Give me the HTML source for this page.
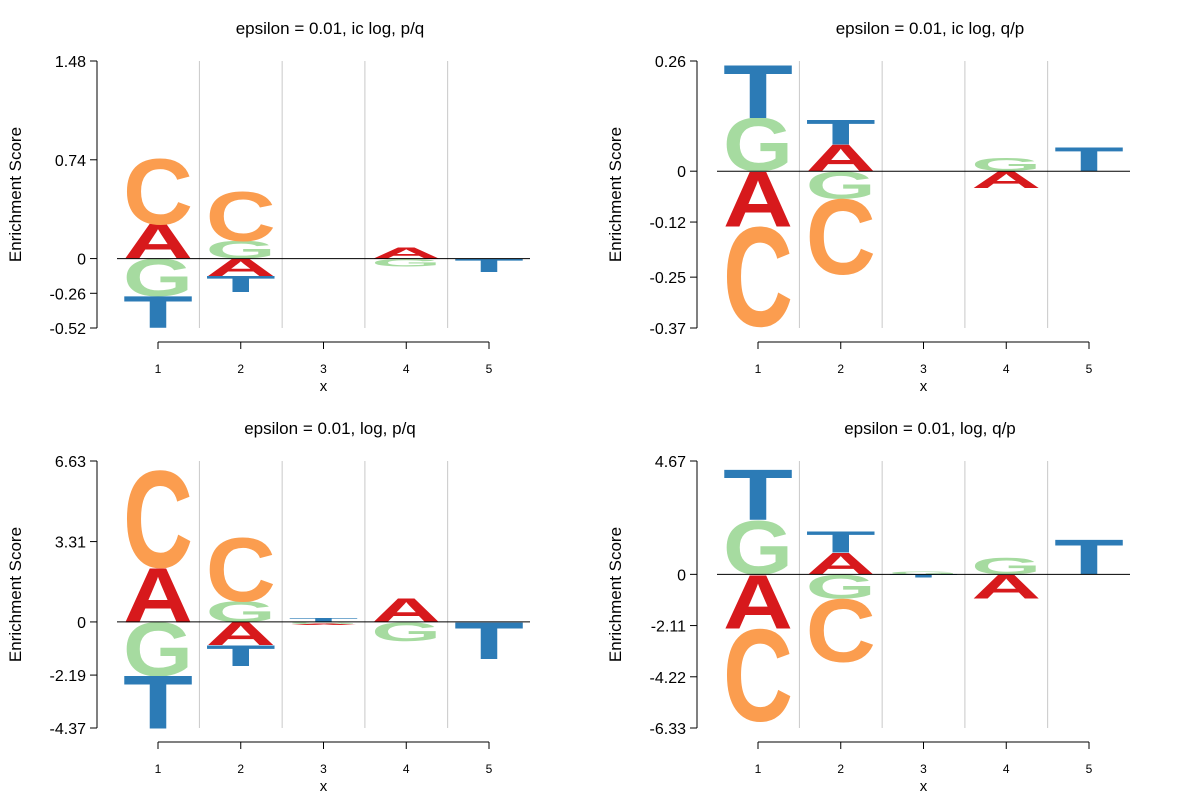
<!DOCTYPE html>
<html><head><meta charset="utf-8">
<style>
html,body{margin:0;padding:0;background:#fff;}
svg{display:block;font-family:"Liberation Sans",sans-serif;}
</style></head>
<body>
<svg id="chart" width="1200" height="800" viewBox="0 0 1200 800" xmlns="http://www.w3.org/2000/svg"></svg>
<script>
// ---- data ----
const positions = [1, 2, 3, 4, 5];
const titles = ["epsilon = 0.01, ic log, p/q", "epsilon = 0.01, ic log, q/p", "epsilon = 0.01, log, p/q", "epsilon = 0.01, log, q/p"];
const tickLabelsTL = ["1.48", "0.74", "0", "-0.26", "-0.52"];
const tickLabelsTR = ["0.26", "0", "-0.12", "-0.25", "-0.37"];
const tickLabelsBL = ["6.63", "3.31", "0", "-2.19", "-4.37"];
const tickLabelsBR = ["4.67", "0", "-2.11", "-4.22", "-6.33"];
// stacks per position, ordered from zero outward: [letter, height]
const posTL = [[["A",0.26],["C",0.49]], [["G",0.13],["C",0.37]], [], [["A",0.08]], []];
const negTL = [[["G",0.28],["T",0.24]], [["A",0.13],["T",0.12]], [], [["G",0.06]], [["T",0.10]]];
const posTR = [[["G",0.125],["T",0.125]], [["A",0.063],["T",0.058]], [], [["G",0.03]], [["T",0.056]]];
const negTR = [[["A",0.13],["C",0.235]], [["G",0.065],["C",0.178]], [], [["A",0.04]], []];
const posBL = [[["A",2.26],["C",4.0]], [["G",0.86],["C",2.63]], [["T",0.15]], [["A",1.0]], []];
const negBL = [[["G",2.22],["T",2.18]], [["A",0.95],["T",0.86]], [["G",0.08],["A",0.05]], [["G",0.78]], [["T",1.52]]];
const posBR = [[["G",2.23],["T",2.1]], [["A",0.9],["T",0.87]], [["G",0.12]], [["G",0.7]], [["T",1.45]]];
const negBR = [[["A",2.23],["C",3.8]], [["G",1.0],["C",2.6]], [["T",0.12]], [["A",1.0]], []];

const colors = {A:"#d7191c", C:"#fb9d4f", G:"#a6dba0", T:"#2c7bb6"};
const NS = "http://www.w3.org/2000/svg";
const svg = document.getElementById("chart");
function mk(tag, attrs, parent){const e=document.createElementNS(NS,tag);for(const k in attrs)e.setAttribute(k,attrs[k]);(parent||svg).appendChild(e);return e;}

const panels = [
  {ox:0, oy:0, ymax:1.48, ymin:-0.52, ticks:tickLabelsTL, pos:posTL, neg:negTL, title:titles[0]},
  {ox:600, oy:0, ymax:0.26, ymin:-0.37, ticks:tickLabelsTR, pos:posTR, neg:negTR, title:titles[1]},
  {ox:0, oy:400, ymax:6.63, ymin:-4.37, ticks:tickLabelsBL, pos:posBL, neg:negBL, title:titles[2]},
  {ox:600, oy:400, ymax:4.67, ymin:-6.33, ticks:tickLabelsBR, pos:posBR, neg:negBR, title:titles[3]}
];

panels.forEach((p, pi) => {
  const g = mk("g", {});
  
  
  const top = 61 + p.oy, bot = 328 + p.oy;
  const y = v => top + (p.ymax - v) / (p.ymax - p.ymin) * (bot - top);
  const x = i => 158 + p.ox + (i - 1) * 82.75;
  const left = 117 + p.ox, right = 530 + p.ox;
  // title
  const t = mk("text", {x: 330 + p.ox, y: 34 + p.oy, "text-anchor":"middle", "font-size":17, fill:"#000"}, g);
  t.textContent = p.title;
  
  
  // gridlines
  for (let i = 1; i < positions.length; i++) {
    const gl = mk("line", {x1: x(i)+41.4, x2: x(i)+41.4, y1: top, y2: bot, stroke:"#c8c8c8", "stroke-width":1}, g);
    
    
  }
  // letters
  const W = 70;
  function drawLetter(ch, v0, v1, i){
    const yt = y(Math.max(v0,v1)), yb = y(Math.min(v0,v1));
    const h = yb - yt; if (h <= 0.3) return;
    const fs = 100;
    const el = mk("text", {x: 0, y: 0, "font-size": fs, "font-weight":"bold", fill: colors[ch],
      textLength: W, lengthAdjust: "spacingAndGlyphs",
      transform: `translate(${x(i) - W/2},${yb}) scale(1,${h/(0.70*fs)})`}, g);
    el.textContent = ch;
    
    
  }
  positions.forEach((pos, k) => {
    let acc = 0;
    p.pos[k].forEach(([ch, h]) => { drawLetter(ch, acc, acc + h, pos); acc += h; });
    acc = 0;
    p.neg[k].forEach(([ch, h]) => { drawLetter(ch, acc, acc - h, pos); acc -= h; });
  });
  // zero line
  const zl = mk("line", {x1: left, x2: right, y1: y(0), y2: y(0), stroke:"#000", "stroke-width":1}, g);
  
  
  // y axis
  const ax = 97 + p.ox;
  const ya = mk("line", {x1: ax, x2: ax, y1: top, y2: bot, stroke:"#000"}, g);
  
  
  p.ticks.forEach(lbl => {
    const v = parseFloat(lbl), yy = y(v);
    mk("line", {x1: ax - 7, x2: ax, y1: yy, y2: yy, stroke:"#000"}, g);
    const tl = mk("text", {x: ax - 11, y: yy + 6, "text-anchor":"end", "font-size":16, fill:"#000"}, g);
    tl.textContent = lbl;
    
    
  });
  const yl = mk("text", {x: 0, y: 0, "text-anchor":"middle", "font-size":17, fill:"#000",
    transform: `translate(${21 + p.ox},${(top+bot)/2}) rotate(-90)`}, g);
  yl.textContent = "Enrichment Score";
  
  
  // x axis
  const xy = 342 + p.oy;
  const xa = mk("line", {x1: x(1), x2: x(5), y1: xy, y2: xy, stroke:"#000"}, g);
  
  
  positions.forEach(pos => {
    mk("line", {x1: x(pos), x2: x(pos), y1: xy, y2: xy + 7, stroke:"#000"}, g);
    const xl = mk("text", {x: x(pos), y: xy + 31, "text-anchor":"middle", "font-size":12, fill:"#000"}, g);
    xl.textContent = pos;
    
    
  });
  const xt = mk("text", {x: x(3), y: xy + 49, "text-anchor":"middle", "font-size":15, fill:"#000"}, g);
  xt.textContent = "x";
  
  
});
</script>
</body></html>
